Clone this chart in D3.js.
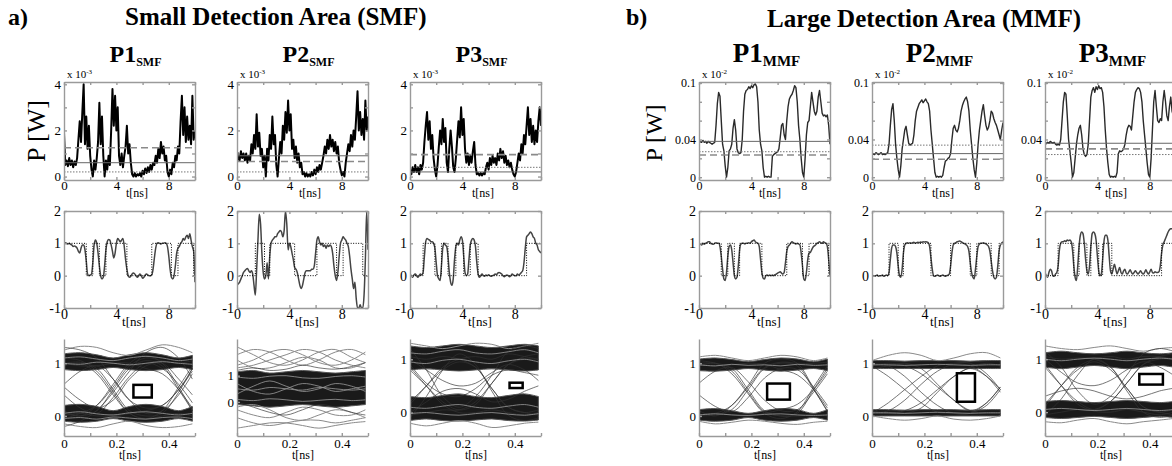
<!DOCTYPE html>
<html>
<head>
<meta charset="utf-8">
<script src="https://cdn.jsdelivr.net/npm/d3@7"></script>
<style>
  body { margin: 0; background: #fff; }
  svg, svg text { font-family: "Liberation Serif", "Times New Roman", serif; }
</style>
</head>
<body>
<svg id="fig" width="1172" height="466"></svg>
<script>
////////////////////////////////////////////////////////////////////////
// Data

// time axis of the power / signal traces, one sample every 0.1 ns
let sampleTimes = d3.range(101).map(i => i / 10);

// received power, top row (SMF in units of 1e-3 W, MMF as printed on axis)
let smfP1Power = [1.9,
  0.5,0.7,0.45,0.8,0.5,0.7,0.4,0.65,0.5,0.8,
  1.6,2.4,1.5,2.8,4.0,1.4,2.6,1.2,2.2,0.9,
  0.3,0.0,0.7,0.3,0.8,1.5,3.2,1.4,2.6,0.9,
  0.0,0.7,0.3,0.9,0.5,2.0,3.8,2.2,3.5,2.0,
  3.0,0.9,0.5,1.0,0.4,0.9,1.3,2.2,1.0,1.4,
  0.6,0.1,0.0,0.15,0.0,0.1,0.05,0.15,0.0,0.25,
  0.1,0.35,0.15,0.4,0.2,0.5,0.3,0.6,0.5,0.9,
  0.6,1.2,0.8,1.5,1.0,1.3,0.7,0.9,0.2,0.0,
  0.3,0.1,0.6,0.4,0.9,0.7,1.3,1.0,2.4,3.5,
  1.8,3.0,1.5,2.6,1.6,2.2,1.4,3.5,1.6,2.0];
let smfP2Power = [0.6,
  1.0,0.7,1.1,0.8,1.0,0.7,1.0,0.6,0.9,0.7,
  1.4,1.0,1.8,1.2,2.7,1.3,1.9,0.9,1.2,0.4,
  0.9,0.0,1.2,0.7,1.8,1.2,2.6,1.4,1.8,0.5,
  0.0,0.8,1.5,1.0,2.2,1.6,2.8,1.9,3.3,2.0,
  2.7,1.2,1.6,0.8,1.3,0.6,1.0,0.4,0.6,0.1,
  0.2,0.0,0.15,0.0,0.1,0.0,0.2,0.05,0.3,0.1,
  0.4,0.2,0.5,0.3,0.6,0.9,1.3,1.0,1.6,1.2,
  1.8,1.3,1.6,1.1,1.5,1.0,1.3,0.6,0.3,0.05,
  0.2,0.0,0.6,1.0,1.4,1.1,1.8,1.3,2.0,1.6,
  2.6,3.7,2.0,2.8,1.8,2.5,1.6,3.3,2.0,2.6];
let smfP3Power = [0.3,
  0.1,0.4,0.2,0.5,0.2,0.4,0.1,0.5,0.3,0.6,
  1.5,2.2,2.8,1.6,2.4,1.2,1.8,0.8,0.3,0.0,
  0.5,1.3,2.0,1.4,2.5,1.5,2.1,0.6,0.2,1.2,
  2.0,1.3,0.4,0.2,0.8,1.6,2.4,1.7,3.0,1.8,
  2.5,1.2,0.6,1.0,0.5,0.9,0.6,1.1,1.5,0.5,
  0.1,0.15,0.05,0.15,0.05,0.15,0.1,0.4,0.6,0.3,
  0.8,0.5,0.9,0.6,0.8,0.5,1.0,0.7,1.2,0.8,
  1.1,0.6,0.9,0.5,0.7,0.4,0.6,0.3,0.1,0.0,
  0.2,0.6,1.0,0.7,1.4,1.0,1.8,1.4,2.2,3.0,
  1.8,2.5,1.5,2.2,1.4,2.0,1.5,2.4,3.0,2.2];
let mmfP1Power = [0.036,
  0.038,0.037,0.039,0.037,0.038,0.036,0.038,0.037,0.036,0.035,
  0.036,0.037,0.055,0.078,0.09,0.086,0.06,0.035,0.028,0.012,
  0.0,0.01,0.028,0.03,0.035,0.052,0.061,0.05,0.03,0.026,
  0.025,0.026,0.04,0.07,0.088,0.092,0.093,0.096,0.094,0.097,
  0.095,0.098,0.099,0.096,0.08,0.05,0.035,0.028,0.01,0.0,
  0.001,0.0,0.001,0.0,0.0,0.022,0.024,0.025,0.026,0.027,
  0.03,0.042,0.055,0.057,0.045,0.04,0.06,0.075,0.083,0.086,
  0.088,0.092,0.097,0.095,0.08,0.055,0.04,0.02,0.005,0.0,
  0.02,0.045,0.058,0.06,0.075,0.09,0.08,0.07,0.066,0.07,
  0.085,0.092,0.08,0.068,0.065,0.066,0.064,0.066,0.055,0.035];
let mmfP2Power = [0.024,
  0.025,0.024,0.026,0.025,0.024,0.025,0.026,0.024,0.025,0.024,
  0.025,0.026,0.035,0.055,0.072,0.078,0.06,0.035,0.02,0.008,
  0.0,0.012,0.03,0.04,0.05,0.054,0.045,0.036,0.034,0.035,
  0.036,0.045,0.06,0.07,0.074,0.078,0.08,0.082,0.079,0.081,
  0.083,0.08,0.078,0.07,0.05,0.035,0.02,0.005,0.0,0.001,
  0.0,0.001,0.0,0.002,0.01,0.017,0.018,0.02,0.021,0.025,
  0.04,0.052,0.055,0.05,0.048,0.052,0.06,0.07,0.076,0.08,
  0.083,0.085,0.08,0.07,0.05,0.035,0.02,0.008,0.0,0.015,
  0.035,0.05,0.06,0.07,0.077,0.065,0.055,0.05,0.053,0.06,
  0.07,0.068,0.062,0.058,0.055,0.05,0.045,0.04,0.05,0.058];
let mmfP3Power = [0.034,
  0.036,0.037,0.036,0.038,0.037,0.036,0.037,0.035,0.034,0.035,
  0.034,0.04,0.06,0.08,0.09,0.088,0.065,0.04,0.028,0.015,
  0.0,0.005,0.02,0.035,0.045,0.052,0.055,0.045,0.03,0.024,
  0.022,0.024,0.035,0.06,0.085,0.092,0.095,0.09,0.096,0.093,
  0.097,0.094,0.095,0.09,0.075,0.05,0.03,0.015,0.003,0.0,
  0.001,0.0,0.001,0.0,0.005,0.025,0.028,0.027,0.028,0.03,
  0.035,0.045,0.052,0.055,0.054,0.05,0.065,0.08,0.09,0.093,
  0.095,0.094,0.09,0.08,0.06,0.045,0.03,0.015,0.003,0.0,
  0.02,0.05,0.08,0.092,0.075,0.06,0.058,0.062,0.06,0.08,
  0.092,0.08,0.065,0.06,0.075,0.085,0.07,0.065,0.06,0.05];

// threshold lines in the power plots: [dashed, solid, dotted]
let smfP1Levels = [1.25, 0.6, 0.2];
let smfP2Levels = [0.65, 0.9, 0.2];
let smfP3Levels = [0.95, 0.2, 0.4];
let mmfP1Levels = [0.0235, 0.038, 0.027];
let mmfP2Levels = [0.019, 0.025, 0.034];
let mmfP3Levels = [0.030, 0.036, 0.024];

// recovered signal, middle row
let smfP1Signal = [1.0,
  1.02,1.0,0.98,1.0,0.97,0.95,0.9,0.92,0.9,0.85,
  0.75,0.7,0.85,0.95,0.95,0.8,0.45,0.05,0.0,0.02,
  0.05,0.4,0.95,1.1,1.0,0.7,0.3,0.0,-0.1,-0.05,
  0.3,0.8,1.05,1.12,1.1,0.95,0.75,0.55,0.7,1.0,
  1.15,1.1,1.05,1.1,1.15,0.9,0.5,0.2,0.0,-0.05,
  -0.02,0.05,0.08,0.05,0.0,-0.05,0.0,0.05,0.0,-0.08,
  -0.05,0.02,0.05,0.02,0.0,0.0,0.02,0.2,0.55,0.85,
  1.0,1.02,1.0,0.98,1.0,1.0,1.02,1.0,0.9,0.6,
  0.2,-0.05,-0.1,0.0,0.3,0.7,0.85,0.9,1.0,1.05,
  1.15,1.1,1.2,1.25,1.15,1.3,1.1,0.9,0.75,-0.2];
let smfP2Signal = [-0.3,
  -0.25,-0.2,-0.1,0.0,0.1,0.15,0.2,0.22,0.15,0.1,
  0.15,0.05,-0.3,-0.6,0.2,1.1,1.9,1.6,0.7,0.1,
  -0.1,0.0,0.4,-0.1,0.6,1.0,1.1,1.15,1.2,1.2,
  1.3,1.35,1.4,1.35,1.2,1.4,2.0,1.6,0.8,1.0,
  0.9,0.7,0.5,0.25,0.2,0.1,-0.1,-0.3,-0.4,-0.3,
  -0.1,0.1,0.15,0.15,0.15,0.15,0.2,0.2,0.3,0.7,
  1.1,1.2,1.05,0.95,1.0,0.9,0.95,0.85,0.95,0.9,
  0.95,0.9,0.7,0.3,0.0,-0.15,0.1,0.6,1.0,1.1,
  1.2,1.15,1.1,1.0,0.9,0.6,0.2,-0.1,-0.4,-0.2,
  -0.7,-1.0,-1.0,-0.9,-1.0,-1.0,-0.6,0.5,2.0,0.8];
let smfP3Signal = [0.05,
  0.0,-0.05,0.02,0.05,0.0,-0.05,0.0,0.05,0.02,0.1,
  0.6,1.05,1.15,1.12,1.1,1.05,1.05,1.0,0.85,0.4,
  0.0,-0.1,-0.15,0.3,0.85,1.0,0.95,0.9,0.6,0.1,
  -0.2,-0.3,-0.1,0.5,0.9,1.0,0.95,1.1,1.2,1.1,
  0.6,0.1,0.0,0.05,0.5,0.95,1.1,1.15,1.1,0.9,
  0.4,0.05,-0.05,0.0,0.05,0.0,-0.02,0.02,0.0,0.03,
  0.0,-0.02,0.0,0.02,0.05,0.03,0.08,0.1,0.08,0.05,
  0.0,-0.03,0.0,0.02,0.0,-0.03,0.0,0.05,0.02,0.0,
  0.0,0.05,0.02,0.05,0.1,0.15,0.4,0.85,1.2,1.25,
  1.3,1.35,1.3,1.2,1.15,1.0,0.95,0.8,0.75,0.7];
let mmfP1Signal = [1.0,
  0.98,0.95,1.0,0.97,1.0,1.02,1.05,1.05,1.0,0.98,
  0.97,1.0,1.02,1.0,1.0,0.9,0.6,0.2,-0.1,-0.15,
  0.1,0.6,0.9,0.95,0.8,0.4,0.0,-0.1,-0.05,0.3,
  0.8,0.98,1.0,1.0,0.98,1.0,1.0,1.02,1.0,1.05,
  1.08,1.1,1.05,1.02,1.0,0.9,0.5,0.1,-0.08,-0.1,
  0.0,0.02,0.0,0.02,0.0,0.02,0.0,0.03,0.05,0.08,
  0.1,0.12,0.08,0.05,0.1,0.4,0.75,0.9,0.95,1.0,
  1.05,1.02,1.0,0.98,1.0,0.98,0.95,0.7,0.3,-0.1,
  -0.15,0.1,0.5,0.7,0.72,0.8,0.88,0.92,0.95,1.0,
  1.02,1.05,1.02,1.0,1.05,1.02,1.0,0.9,0.5,0.0];
let mmfP2Signal = [0.02,
  0.0,-0.02,0.0,0.02,-0.02,0.0,0.0,0.02,-0.02,0.0,
  0.02,0.0,0.1,0.5,0.85,0.95,0.95,0.9,0.7,0.3,
  0.0,-0.05,0.2,0.7,0.95,1.0,1.02,1.0,1.02,1.0,
  1.02,1.03,1.0,1.02,1.03,1.02,1.04,1.03,1.05,1.04,
  1.05,1.04,1.02,0.9,0.55,0.2,0.0,-0.02,0.0,0.02,
  0.0,-0.02,0.0,0.02,0.0,-0.02,0.0,0.02,0.05,0.3,
  0.7,0.95,1.0,1.02,1.05,1.06,1.07,1.05,1.02,1.0,
  0.98,0.95,0.9,0.75,0.4,0.1,-0.05,-0.1,0.2,0.6,
  0.9,0.98,1.0,1.0,1.02,1.0,0.98,0.95,0.9,0.75,
  0.45,0.15,-0.05,-0.1,-0.05,0.3,0.75,0.95,1.0,1.05];
let mmfP3Signal = [0.1,
  0.0,-0.05,0.1,0.2,0.15,0.0,-0.02,0.05,0.1,0.3,
  0.8,1.0,1.05,1.05,1.08,1.06,1.1,1.08,1.1,1.05,
  0.8,0.3,-0.05,-0.15,0.3,0.9,1.25,1.35,1.3,1.0,
  0.5,0.15,0.05,0.3,0.9,1.3,1.35,1.3,1.1,0.6,
  0.15,0.0,0.05,0.5,1.05,1.25,1.25,1.1,0.6,0.15,
  0.05,0.2,0.35,0.2,0.05,0.15,0.25,0.1,0.05,0.15,
  0.2,0.08,0.05,0.12,0.18,0.1,0.05,0.1,0.15,0.1,
  0.05,0.1,0.15,0.08,0.05,0.1,0.18,0.1,0.05,0.12,
  0.2,0.1,0.08,0.12,0.1,0.1,0.12,0.3,0.7,0.95,
  1.05,1.15,1.25,1.35,1.42,1.45,1.45,1.4,1.35,1.3];

// transmitted bits (dotted), [start time, level]
let smfP1Bits = [[0,1],[1.7,0],[2.2,1],[2.7,0],[3.2,1],[4.8,0],[6.7,1],[8.2,0],[8.7,1],[9.9,0],[10,0]];
let smfP2Bits = [[0,0],[1.4,1],[2.1,0],[2.5,1],[4.4,0],[6.1,1],[7.6,0],[8.1,1],[9.6,0],[10,0]];
let smfP3Bits = [[0,0],[1.0,1],[1.9,0],[2.4,1],[2.9,0],[3.5,1],[4.1,0],[4.6,1],[5.2,0],[8.9,1],[10,1]];
let mmfP1Bits = [[0,1],[1.7,0],[2.2,1],[2.7,0],[3.1,1],[4.8,0],[6.7,1],[7.9,0],[8.4,1],[9.9,0],[10,0]];
let mmfP2Bits = [[0,0],[1.3,1],[2.0,0],[2.4,1],[4.5,0],[6.0,1],[7.5,0],[8.0,1],[9.1,0],[9.7,1],[10,1]];
let mmfP3Bits = [[0,0],[1.0,1],[2.2,0],[2.6,1],[3.2,0],[3.5,1],[4.1,0],[4.4,1],[5.1,0],[8.9,1],[10,1]];

// eye diagrams, bottom row: knots in time and traces through them
let eyeTimes = [0, 0.0625, 0.125, 0.1875, 0.25, 0.3125, 0.375, 0.4375, 0.49];

let smfP1EyeBands = [
  [[0.88,0.86,0.88,0.92,0.88,0.86,0.88,0.92,0.88], [1.18,1.2,1.16,1.1,1.16,1.2,1.16,1.1,1.15]],
  [[-0.1,-0.12,-0.1,-0.05,-0.1,-0.12,-0.1,-0.05,-0.1], [0.2,0.22,0.18,0.1,0.18,0.22,0.18,0.1,0.18]]];
let smfP1EyeTraces = [
  [1.0,1.02,0.9,0.5,0.1,0.0,0.05,0.45,0.9],
  [0.05,0.0,0.1,0.5,0.9,1.05,0.95,0.5,0.1],
  [1.1,1.05,0.85,0.45,0.05,-0.05,0.0,0.05,0.0],
  [-0.05,0.05,0.2,0.55,0.95,1.1,1.05,1.0,1.05],
  [1.0,0.95,0.95,1.0,1.0,0.9,0.8,0.5,0.15],
  [0.0,0.05,0.0,0.0,0.05,0.1,0.2,0.5,0.85],
  [0.6,0.85,0.95,0.7,0.3,0.05,0.1,0.4,0.8],
  [0.4,0.15,0.05,0.35,0.75,1.0,0.9,0.6,0.25],
  [0.55,0.3,0.15,0.3,0.7,0.95,1.0,0.7,0.4],
  [1.3,1.25,1.1,0.7,0.3,0.15,0.2,0.5,0.9],
  [-0.2,-0.1,0.1,0.45,0.85,1.2,1.3,1.1,0.7],
  [0.95,1.0,0.8,0.4,0.05,-0.05,0.1,0.55,0.95],
  [0.1,0.0,0.2,0.6,1.0,1.15,1.0,0.55,0.1]];
let smfP1EyeOuter = [
  [1.25,1.32,1.3,1.2,1.15,1.25,1.35,1.3,1.2],
  [-0.15,-0.2,-0.22,-0.15,-0.1,-0.18,-0.22,-0.2,-0.15]];
let smfP1EyeInner = [
  [1.0,0.98,1.02,1.0,0.97,1.0,1.03,1.0,0.98],
  [1.1,1.12,1.08,1.05,1.1,1.13,1.1,1.05,1.08],
  [0.05,0.08,0.04,0.02,0.06,0.08,0.05,0.02,0.05],
  [-0.05,-0.03,-0.06,-0.02,-0.04,-0.06,-0.03,-0.02,-0.05]];
let smfP1Mask = [0.265, 0.335, 0.35, 0.59];

let smfP2EyeBands = [
  [[-0.1,-0.15,-0.2,-0.15,-0.1,-0.15,-0.2,-0.15,-0.1], [1.15,1.2,1.1,1.15,1.2,1.15,1.1,1.15,1.2]]];
let smfP2EyeTraces = [
  [1.2,1.3,1.2,1.25,1.4,1.3,1.25,1.35,1.5],
  [0.0,-0.2,-0.4,-0.5,-0.3,-0.1,-0.2,-0.4,-0.5]];
let smfP2EyeOuter = [
  [1.8,2.0,1.9,1.6,1.4,1.6,1.9,2.0,1.8],
  [1.4,1.6,1.9,2.0,1.8,1.5,1.4,1.6,1.9],
  [2.1,1.8,1.5,1.4,1.6,1.9,2.0,1.7,1.5],
  [1.3,1.4,1.6,1.8,2.0,1.9,1.6,1.4,1.3],
  [1.6,1.3,1.3,1.5,1.7,1.6,1.3,1.3,1.5],
  [-0.3,-0.5,-0.6,-0.4,-0.2,-0.3,-0.5,-0.5,-0.3],
  [-0.6,-0.8,-0.9,-0.8,-0.7,-0.7,-0.8,-0.7,-0.6],
  [-0.2,-0.1,-0.3,-0.6,-0.7,-0.5,-0.3,-0.4,-0.6],
  [-1.0,-0.9,-0.8,-0.8,-0.9,-1.0,-0.9,-0.8,-0.75]];
let smfP2EyeInner = [
  [0.3,0.6,0.8,0.6,0.4,0.5,0.7,0.6,0.4],
  [0.7,0.4,0.3,0.5,0.7,0.6,0.4,0.5,0.6],
  [0.5,0.45,0.55,0.5,0.45,0.55,0.5,0.45,0.5],
  [0.95,0.9,0.98,1.0,0.92,0.9,0.97,1.0,0.95],
  [0.1,0.05,0.12,0.08,0.02,0.06,0.1,0.05,0.08]];
let smfP2Mask = null;

let smfP3EyeBands = [
  [[0.8,0.82,0.8,0.78,0.8,0.82,0.8,0.78,0.8], [1.25,1.22,1.25,1.28,1.25,1.22,1.25,1.28,1.25]],
  [[-0.15,-0.12,-0.15,-0.16,-0.14,-0.12,-0.15,-0.16,-0.14], [0.3,0.28,0.32,0.35,0.3,0.28,0.32,0.35,0.3]]];
let smfP3EyeTraces = [
  [0.8,0.5,0.2,0.05,0.15,0.55,0.9,1.0,1.0],
  [0.2,0.5,0.8,0.95,0.85,0.45,0.1,0.0,0.05],
  [0.85,0.5,0.15,0.0,0.0,0.05,0.0,-0.05,0.0],
  [0.15,0.5,0.85,1.0,1.05,1.0,1.1,1.05,1.0],
  [1.05,1.0,1.05,1.0,0.85,0.45,0.1,0.0,-0.05],
  [-0.05,0.0,0.05,0.05,0.2,0.55,0.9,1.05,1.1],
  [1.2,0.8,0.3,0.1,0.3,0.7,1.15,1.25,1.2],
  [-0.1,0.3,0.8,1.1,0.9,0.4,-0.05,-0.15,-0.1],
  [1.0,0.8,0.6,0.5,0.55,0.75,0.9,0.8,0.6],
  [0.0,0.2,0.4,0.45,0.35,0.2,0.25,0.4,0.5],
  [0.9,0.55,0.35,0.3,0.45,0.7,0.8,0.75,0.7]];
let smfP3EyeOuter = [
  [1.3,1.25,1.2,1.25,1.3,1.28,1.2,1.25,1.3],
  [-0.2,-0.25,-0.2,-0.15,-0.2,-0.28,-0.25,-0.2,-0.18]];
let smfP3EyeInner = [
  [0.95,0.92,0.98,1.0,0.95,0.92,0.97,1.0,0.95],
  [1.12,1.1,1.15,1.18,1.12,1.1,1.14,1.18,1.12],
  [0.1,0.08,0.12,0.15,0.1,0.08,0.12,0.15,0.1],
  [-0.02,0.0,-0.03,-0.05,-0.02,0.0,-0.03,-0.05,-0.02]];
let smfP3Mask = [0.38, 0.43, 0.46, 0.56];

let mmfP1EyeBands = [
  [[0.86,0.85,0.87,0.9,0.87,0.85,0.87,0.9,0.86], [1.08,1.1,1.07,1.03,1.07,1.1,1.08,1.03,1.08]],
  [[-0.08,-0.1,-0.08,-0.03,-0.08,-0.1,-0.08,-0.03,-0.08], [0.12,0.14,0.1,0.05,0.1,0.14,0.12,0.05,0.12]]];
let mmfP1EyeTraces = [
  [1.0,1.0,0.9,0.5,0.1,0.0,0.05,0.5,0.9],
  [0.0,0.02,0.12,0.5,0.9,1.0,0.95,0.5,0.1],
  [1.05,1.0,0.85,0.45,0.08,0.0,0.0,0.02,0.0],
  [0.02,0.05,0.2,0.55,0.92,1.02,1.0,1.0,1.02],
  [0.98,0.95,0.97,1.0,0.98,0.88,0.78,0.5,0.15],
  [0.02,0.05,0.02,0.0,0.05,0.12,0.22,0.5,0.85],
  [0.62,0.85,0.92,0.65,0.3,0.1,0.12,0.45,0.8],
  [0.4,0.18,0.08,0.35,0.72,0.9,0.88,0.55,0.2],
  [0.95,1.0,0.8,0.42,0.05,-0.05,0.08,0.55,0.95],
  [0.1,0.0,0.2,0.58,1.0,1.08,1.0,0.52,0.08]];
let mmfP1EyeOuter = [
  [1.12,1.15,1.1,1.05,1.1,1.15,1.12,1.05,1.1],
  [-0.1,-0.15,-0.12,-0.08,-0.1,-0.14,-0.16,-0.12,-0.1]];
let mmfP1EyeInner = [
  [0.97,0.95,0.98,0.96,0.97,0.95,0.98,0.96,0.97],
  [0.02,0.04,0.02,0.01,0.03,0.04,0.02,0.01,0.02]];
let mmfP1Mask = [0.26, 0.347, 0.31, 0.615];

let mmfP2EyeBands = [
  [[0.9,0.9,0.9,0.9,0.9,0.9,0.9,0.9,0.9], [1.05,1.05,1.04,1.05,1.05,1.05,1.04,1.05,1.05]],
  [[0.0,0.0,0.0,0.0,0.0,0.0,0.0,0.0,0.0], [0.12,0.12,0.11,0.12,0.12,0.12,0.11,0.12,0.12]]];
let mmfP2EyeTraces = [
  [0.95,0.75,0.5,0.25,0.07,0.05,0.05,0.2,0.5],
  [0.05,0.25,0.5,0.75,0.95,1.0,1.0,0.8,0.5],
  [0.95,1.0,0.95,0.8,0.55,0.3,0.1,0.05,0.05],
  [0.05,0.05,0.1,0.25,0.5,0.75,0.92,1.0,0.95],
  [1.0,0.95,0.75,0.45,0.2,0.05,0.05,0.25,0.55],
  [0.05,0.1,0.3,0.6,0.85,0.98,0.95,0.75,0.45],
  [0.9,0.95,1.0,0.9,0.6,0.3,0.1,0.25,0.55],
  [0.1,0.05,0.05,0.15,0.45,0.75,0.9,0.75,0.5]];
let mmfP2EyeOuter = [
  [1.05,1.15,1.2,1.15,1.05,1.1,1.18,1.2,1.1],
  [0.0,-0.05,-0.08,-0.05,0.0,-0.06,-0.08,-0.05,0.0]];
let mmfP2EyeInner = [
  [0.97,0.97,0.96,0.97,0.98,0.97,0.96,0.97,0.97],
  [0.06,0.06,0.05,0.06,0.07,0.06,0.05,0.06,0.06]];
let mmfP2Mask = [0.324, 0.393, 0.27, 0.81];

let mmfP3EyeBands = [
  [[0.85,0.82,0.85,0.88,0.85,0.82,0.85,0.88,0.85], [1.12,1.15,1.12,1.1,1.12,1.15,1.12,1.1,1.12]],
  [[-0.1,-0.12,-0.1,-0.08,-0.1,-0.12,-0.1,-0.08,-0.1], [0.2,0.22,0.2,0.18,0.2,0.22,0.2,0.18,0.2]]];
let mmfP3EyeTraces = [
  [0.85,0.5,0.2,0.05,0.2,0.55,0.9,1.0,1.0],
  [0.15,0.5,0.8,0.95,0.8,0.45,0.1,0.0,0.05],
  [0.9,0.5,0.15,0.02,0.0,0.05,0.0,-0.05,0.0],
  [0.1,0.5,0.85,1.0,1.05,1.0,1.05,1.05,1.0],
  [1.05,1.0,1.02,1.0,0.85,0.45,0.1,0.0,-0.05],
  [-0.05,0.0,0.05,0.05,0.2,0.55,0.9,1.05,1.1],
  [1.15,0.85,0.4,0.15,0.3,0.7,1.1,1.2,1.15],
  [-0.05,0.25,0.7,1.0,0.85,0.4,0.0,-0.1,-0.05],
  [1.0,0.75,0.55,0.5,0.6,0.8,0.95,0.85,0.7],
  [0.3,0.4,0.45,0.4,0.3,0.25,0.3,0.4,0.45]];
let mmfP3EyeOuter = [
  [1.25,1.2,1.18,1.22,1.25,1.2,1.15,1.2,1.22],
  [-0.18,-0.2,-0.15,-0.12,-0.18,-0.22,-0.18,-0.15,-0.12]];
let mmfP3EyeInner = [
  [1.0,0.97,1.0,1.02,1.0,0.97,1.0,1.02,1.0],
  [0.05,0.07,0.05,0.03,0.05,0.07,0.05,0.03,0.05]];
let mmfP3Mask = [0.36, 0.45, 0.52, 0.72];

////////////////////////////////////////////////////////////////////////
// Layout

let svg = d3.select("#fig").attr("font-family", "Liberation Serif, serif");
let serif = "Liberation Serif, serif";

let plotW = 131;
let smfLeft = [64, 237, 410];
let mmfLeft = [699, 872, 1045];
let rowTop = [82, 180];
let rowMid = [211, 308];
let rowEye = [339, 436];
let frameColor = "#9a9a9a";
let clipCount = 0;

function addClip(x0, y0, w, h) {
  let id = "clip" + (clipCount++);
  svg.append("clipPath").attr("id", id)
    .append("rect").attr("x", x0).attr("y", y0).attr("width", w).attr("height", h);
  return "url(#" + id + ")";
}

// grey box with small inward ticks
function drawBox(x, y, xTicks, yTicks) {
  let g = svg.append("g");
  let [x0, x1] = x.range();
  let [yb, yt] = y.range();
  g.append("g").attr("transform", "translate(0," + yb + ")")
    .call(d3.axisBottom(x).tickValues(xTicks).tickSize(-3).tickSizeOuter(0).tickFormat(""));
  g.append("g").attr("transform", "translate(0," + yt + ")")
    .call(d3.axisTop(x).tickValues(xTicks).tickSize(-3).tickSizeOuter(0).tickFormat(""));
  g.append("g").attr("transform", "translate(" + x0 + ",0)")
    .call(d3.axisLeft(y).tickValues(yTicks).tickSize(-3).tickSizeOuter(0).tickFormat(""));
  g.append("g").attr("transform", "translate(" + x1 + ",0)")
    .call(d3.axisRight(y).tickValues(yTicks).tickSize(-3).tickSizeOuter(0).tickFormat(""));
  g.selectAll("path, line").attr("stroke", frameColor).attr("stroke-width", 1.4);
}

// tick labels only
function tickLabels(x, y, xVals, yVals, size, pad) {
  let [yb] = y.range();
  let [x0] = x.range();
  svg.append("g").attr("transform", "translate(0," + yb + ")")
    .call(d3.axisBottom(x).tickValues(xVals).tickSize(0).tickPadding(pad).tickFormat(d => String(d)))
    .call(g => g.select(".domain").remove())
    .attr("font-family", serif).attr("font-size", size);
  svg.append("g").attr("transform", "translate(" + x0 + ",0)")
    .call(d3.axisLeft(y).tickValues(yVals).tickSize(0).tickPadding(3).tickFormat(d => String(d)))
    .call(g => g.select(".domain").remove())
    .attr("font-family", serif).attr("font-size", size);
}

function tnsLabel(x0, yBase, size) {
  svg.append("text").attr("x", x0).attr("y", yBase).attr("font-family", serif)
    .attr("text-anchor", "middle").attr("font-size", size).text("t[ns]");
}

// top row: received power with decision thresholds
function powerPlot(left, values, levels, opts) {
  let x = d3.scaleLinear().domain([0, 10]).range([left, left + plotW]);
  let y = d3.scaleLinear().domain(opts.domain).range([rowTop[1], rowTop[0]]);
  let g = svg.append("g").attr("clip-path", addClip(left, rowTop[0], plotW, rowTop[1] - rowTop[0]));

  g.append("path").datum(values)
    .attr("fill", "none").attr("stroke", opts.color).attr("stroke-width", opts.width)
    .attr("stroke-linejoin", "round")
    .attr("d", d3.line().x((d, i) => x(sampleTimes[i])).y(d => y(d)));

  let styles = [
    {stroke: "#8a8a8a", width: 1.6, dash: "7,4"},
    {stroke: "#666", width: 1, dash: null},
    {stroke: "#777", width: 1, dash: "1.5,1.5"}];
  g.selectAll("line.level").data(levels).enter().append("line")
    .attr("x1", x(0)).attr("x2", x(10))
    .attr("y1", d => y(d)).attr("y2", d => y(d))
    .attr("stroke", (d, i) => styles[i].stroke)
    .attr("stroke-width", (d, i) => styles[i].width)
    .attr("stroke-dasharray", (d, i) => styles[i].dash);

  drawBox(x, y, [0, 2, 4, 6, 8, 10], opts.boxTicks);
  tickLabels(x, y, [0, 4, 8], opts.labels, opts.font, 1);
  tnsLabel(left + opts.tnsDx, rowTop[1] + 17, 12);

  let t = svg.append("text").attr("x", left + 3).attr("y", rowTop[0] - 4).attr("font-size", 11);
  t.append("tspan").text("x 10");
  t.append("tspan").attr("font-size", 7).attr("dy", -4).text(opts.exp);
}

// middle row: recovered signal against transmitted bits
function signalPlot(left, values, bits, font) {
  let x = d3.scaleLinear().domain([0, 10]).range([left, left + plotW]);
  let y = d3.scaleLinear().domain([-1, 2]).range([rowMid[1], rowMid[0]]);
  let g = svg.append("g").attr("clip-path", addClip(left, rowMid[0], plotW, rowMid[1] - rowMid[0]));

  g.append("path").datum(values)
    .attr("fill", "none").attr("stroke", "#444").attr("stroke-width", 1.5)
    .attr("d", d3.line().curve(d3.curveMonotoneX).x((d, i) => x(sampleTimes[i])).y(d => y(d)));
  g.append("path").datum(bits)
    .attr("fill", "none").attr("stroke", "#000").attr("stroke-width", 1)
    .attr("stroke-dasharray", "1,1.5")
    .attr("d", d3.line().curve(d3.curveStepAfter).x(d => x(d[0])).y(d => y(d[1])));

  drawBox(x, y, [0, 2, 4, 6, 8, 10], [-1, 0, 1, 2]);
  tickLabels(x, y, [0, 4, 8], [-1, 0, 1, 2], font, 1);
  tnsLabel(left + 70, rowMid[1] + 18, 13);
}

// bottom row: eye diagram
function eyePlot(left, domain, bands, traces, outer, inner, mask) {
  let x = d3.scaleLinear().domain([0, 0.5]).range([left, left + plotW]);
  let y = d3.scaleLinear().domain(domain).range([rowEye[1], rowEye[0]]);
  let g = svg.append("g").attr("clip-path", addClip(left, rowEye[0], plotW + 1, rowEye[1] - rowEye[0]));
  let line = d3.line().curve(d3.curveCatmullRom).x((d, i) => x(eyeTimes[i])).y(d => y(d));

  bands.forEach(b => {
    g.append("path").datum(b[0])
      .attr("fill", "#1a1a1a").attr("stroke", "#555").attr("stroke-width", 1)
      .attr("d", d3.area().curve(d3.curveCatmullRom)
        .x((d, i) => x(eyeTimes[i])).y0(d => y(d)).y1((d, i) => y(b[1][i])));
  });
  g.selectAll("path.outer").data(outer).enter().append("path")
    .attr("fill", "none").attr("stroke", "#8a8a8a").attr("stroke-width", 1).attr("d", line);
  g.selectAll("path.trace").data(traces).enter().append("path")
    .attr("fill", "none").attr("stroke", "#333").attr("stroke-opacity", 0.75)
    .attr("stroke-width", 0.9).attr("d", line);
  g.selectAll("path.inner").data(inner).enter().append("path")
    .attr("fill", "none").attr("stroke", "#9a9a9a").attr("stroke-width", 0.8).attr("d", line);

  if (mask) {
    g.append("rect")
      .attr("x", x(mask[0])).attr("width", x(mask[1]) - x(mask[0]))
      .attr("y", y(mask[3])).attr("height", y(mask[2]) - y(mask[3]))
      .attr("fill", "#fff").attr("stroke", "#000").attr("stroke-width", 2.5);
  }

  let ax = svg.append("g");
  ax.append("g").attr("transform", "translate(0," + rowEye[1] + ")")
    .call(d3.axisBottom(x).tickValues([0, 0.1, 0.2, 0.3, 0.4, 0.5]).tickSize(-3).tickSizeOuter(0).tickFormat(""));
  ax.append("g").attr("transform", "translate(" + left + ",0)")
    .call(d3.axisLeft(y).tickValues([0, 1]).tickSize(-3).tickSizeOuter(0).tickFormat(""));
  ax.selectAll("path, line").attr("stroke", frameColor).attr("stroke-width", 1.4);

  tickLabels(x, y, [0, 0.2, 0.4], [0, 1], 13, 3);
  tnsLabel(left + 66, rowEye[1] + 23, 12);
}

function colTitle(cx, name, sub, big, small) {
  let t = svg.append("text").attr("x", cx).attr("y", 62)
    .attr("text-anchor", "middle").attr("font-weight", "bold");
  t.append("tspan").attr("font-size", big).text(name);
  t.append("tspan").attr("font-size", small).attr("dy", 4).text(sub);
}

////////////////////////////////////////////////////////////////////////
// Panel a): small detection area

svg.append("text").attr("x", 8).attr("y", 25).attr("font-size", 24).attr("font-weight", "bold").text("a)");
svg.append("text").attr("x", 125).attr("y", 25)
  .attr("font-size", 25).attr("font-weight", "bold").text("Small Detection Area (SMF)");
svg.append("text").attr("transform", "translate(45,131) rotate(-90)")
  .attr("text-anchor", "middle").attr("font-size", 26).text("P [W]");

let smfPower = [smfP1Power, smfP2Power, smfP3Power];
let smfLevels = [smfP1Levels, smfP2Levels, smfP3Levels];
let smfSignal = [smfP1Signal, smfP2Signal, smfP3Signal];
let smfBits = [smfP1Bits, smfP2Bits, smfP3Bits];

smfLeft.forEach((left, i) => {
  colTitle(left + plotW / 2 + 6, "P" + (i + 1), "SMF", 24, 12);
  powerPlot(left, smfPower[i], smfLevels[i], {
    domain: [-0.15, 4.1], boxTicks: [0, 1, 2, 3, 4], labels: [0, 2, 4],
    font: 13, color: "#000", width: 2, exp: "-3", tnsDx: 73});
  signalPlot(left, smfSignal[i], smfBits[i], 14);
});

eyePlot(smfLeft[0], [-0.38, 1.46], smfP1EyeBands, smfP1EyeTraces, smfP1EyeOuter, smfP1EyeInner, smfP1Mask);
eyePlot(smfLeft[1], [-1.3, 2.4], smfP2EyeBands, smfP2EyeTraces, smfP2EyeOuter, smfP2EyeInner, smfP2Mask);
eyePlot(smfLeft[2], [-0.44, 1.38], smfP3EyeBands, smfP3EyeTraces, smfP3EyeOuter, smfP3EyeInner, smfP3Mask);

////////////////////////////////////////////////////////////////////////
// Panel b): large detection area

svg.append("text").attr("x", 626).attr("y", 25).attr("font-size", 24).attr("font-weight", "bold").text("b)");
svg.append("text").attr("x", 767).attr("y", 27)
  .attr("font-size", 25).attr("font-weight", "bold").text("Large Detection Area (MMF)");
svg.append("text").attr("transform", "translate(662,133) rotate(-90)")
  .attr("text-anchor", "middle").attr("font-size", 24).text("P [W]");

let mmfPower = [mmfP1Power, mmfP2Power, mmfP3Power];
let mmfLevels = [mmfP1Levels, mmfP2Levels, mmfP3Levels];
let mmfSignal = [mmfP1Signal, mmfP2Signal, mmfP3Signal];
let mmfBits = [mmfP1Bits, mmfP2Bits, mmfP3Bits];

mmfLeft.forEach((left, i) => {
  colTitle(left + plotW / 2 + 2, "P" + (i + 1), "MMF", 27, 15);
  powerPlot(left, mmfPower[i], mmfLevels[i], {
    domain: [-0.003, 0.101], boxTicks: [0, 0.02, 0.04, 0.06, 0.08, 0.1], labels: [0, 0.04, 0.1],
    font: 12, color: "#2a2a2a", width: 1.4, exp: "-2", tnsDx: 71});
  signalPlot(left, mmfSignal[i], mmfBits[i], 14);
});

eyePlot(mmfLeft[0], [-0.38, 1.46], mmfP1EyeBands, mmfP1EyeTraces, mmfP1EyeOuter, mmfP1EyeInner, mmfP1Mask);
eyePlot(mmfLeft[1], [-0.38, 1.46], mmfP2EyeBands, mmfP2EyeTraces, mmfP2EyeOuter, mmfP2EyeInner, mmfP2Mask);
eyePlot(mmfLeft[2], [-0.45, 1.38], mmfP3EyeBands, mmfP3EyeTraces, mmfP3EyeOuter, mmfP3EyeInner, mmfP3Mask);
</script>
</body>
</html>
